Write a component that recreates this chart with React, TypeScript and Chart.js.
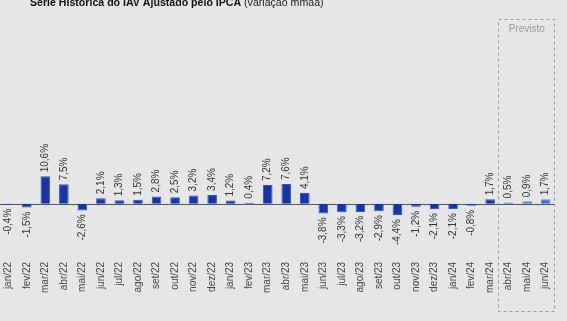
import React, { useEffect, useRef } from "react";
import { Chart, registerables } from "chart.js";

Chart.register(...registerables);

const categories = [
  "jan/22", "fev/22", "mar/22", "abr/22", "mai/22", "jun/22", "jul/22", "ago/22", "set/22", "out/22",
  "nov/22", "dez/22", "jan/23", "fev/23", "mar/23", "abr/23", "mai/23", "jun/23", "jul/23", "ago/23",
  "set/23", "out/23", "nov/23", "dez/23", "jan/24", "fev/24", "mar/24", "abr/24", "mai/24", "jun/24",
];

const values = [
  -0.4, -1.5, 10.6, 7.5, -2.6, 2.1, 1.3, 1.5, 2.8, 2.5,
  3.2, 3.4, 1.2, 0.4, 7.2, 7.6, 4.1, -3.8, -3.3, -3.2,
  -2.9, -4.4, -1.2, -2.1, -2.1, -0.8, 1.7, 0.5, 0.9, 1.7,
];

const forecastStart = "abr/24";
const titleBold = "Série Histórica do IAV Ajustado pelo IPCA";
const titleNormal = " (variação mmaa)";
const forecastLabel = "Previsto";

const FONT = "'Liberation Sans', Arial, Helvetica, sans-serif";

const fmt = (v: number) => v.toFixed(1).replace(".", ",") + "%";

export default function App() {
  const ref = useRef<HTMLCanvasElement | null>(null);

  useEffect(() => {
    if (!ref.current) return;
    const fIdx = categories.indexOf(forecastStart);

    const overlay = {
      id: "overlay",
      beforeDatasetsDraw(chart: any) {
        const { ctx, chartArea } = chart;
        const y0 = chart.scales.y.getPixelForValue(0);
        ctx.save();
        ctx.strokeStyle = "#555555";
        ctx.lineWidth = 1;
        ctx.beginPath();
        ctx.moveTo(chartArea.left, Math.round(y0) + 0.5);
        ctx.lineTo(chartArea.right, Math.round(y0) + 0.5);
        ctx.stroke();
        ctx.restore();
      },
      afterDatasetsDraw(chart: any) {
        const { ctx, chartArea } = chart;
        const meta = chart.getDatasetMeta(0);
        ctx.save();
        ctx.font = `10px ${FONT}`;
        ctx.fillStyle = "#333333";
        ctx.textBaseline = "middle";
        meta.data.forEach((el: any, i: number) => {
          const v = values[i];
          ctx.save();
          if (v >= 0) {
            ctx.translate(el.x, el.y - 4);
            ctx.rotate(-Math.PI / 2);
            ctx.textAlign = "left";
          } else {
            ctx.translate(el.x, el.y + 4);
            ctx.rotate(-Math.PI / 2);
            ctx.textAlign = "right";
          }
          ctx.fillText(fmt(v), 0, 0);
          ctx.restore();
        });

        // forecast box
        const xs = chart.scales.x;
        const left = (xs.getPixelForValue(fIdx - 1) + xs.getPixelForValue(fIdx)) / 2 - 1;
        const right = chartArea.right;
        const top = 19.5;
        const bottom = 311.5;
        ctx.strokeStyle = "#9a9a9a";
        ctx.lineWidth = 1;
        ctx.setLineDash([3, 3]);
        ctx.strokeRect(Math.round(left) + 0.5, top, Math.round(right - left) - 1, bottom - top);
        ctx.setLineDash([]);
        ctx.fillStyle = "#999999";
        ctx.font = `10px ${FONT}`;
        ctx.textAlign = "center";
        ctx.textBaseline = "middle";
        ctx.fillText(forecastLabel, (left + right) / 2, 29.5);

        // title
        ctx.textAlign = "left";
        ctx.textBaseline = "alphabetic";
        ctx.fillStyle = "#111111";
        ctx.font = `bold 10.6px ${FONT}`;
        const tx = 31;
        ctx.fillText(titleBold, tx, 6);
        const w = ctx.measureText(titleBold).width;
        ctx.font = `10.6px ${FONT}`;
        ctx.fillStyle = "#222222";
        ctx.fillText(titleNormal, tx + w, 6);
        ctx.restore();
      },
    };

    const chart = new Chart(ref.current, {
      type: "bar",
      data: {
        labels: categories,
        datasets: [
          {
            data: values,
            backgroundColor: categories.map((_, i) => (i >= fIdx ? "#3f6dd0" : "#1735a6")),
            borderColor: categories.map((_, i) => (i >= fIdx ? "#5f8ae0" : "#3555c6")),
            borderWidth: 1,
            barPercentage: 0.52,
            categoryPercentage: 1,
          },
        ],
      },
      options: {
        animation: false,
        responsive: false,
        maintainAspectRatio: false,
        layout: { padding: { top: 23, right: 12, bottom: 24, left: 0 } },
        plugins: {
          legend: { display: false },
          tooltip: { enabled: false },
          title: { display: false },
        },
        scales: {
          x: {
            grid: { display: false, drawTicks: false },
            border: { display: false },
            ticks: {
              color: "#444444",
              font: { size: 10, family: FONT },
              maxRotation: 90,
              minRotation: 90,
              padding: 4,
              autoSkip: false,
            },
          },
          y: {
            display: false,
            min: -21,
            max: 70,
          },
        },
      },
      plugins: [overlay],
    });
    return () => chart.destroy();
  }, []);

  return (
    <div style={{ position: "fixed", left: 0, top: 0, width: 567, height: 321, background: "#e6e6e6", overflow: "hidden" }}>
      <canvas ref={ref} width={568} height={321} style={{ position: "absolute", left: -1, top: 0, width: 568, height: 321 }} />
    </div>
  );
}
